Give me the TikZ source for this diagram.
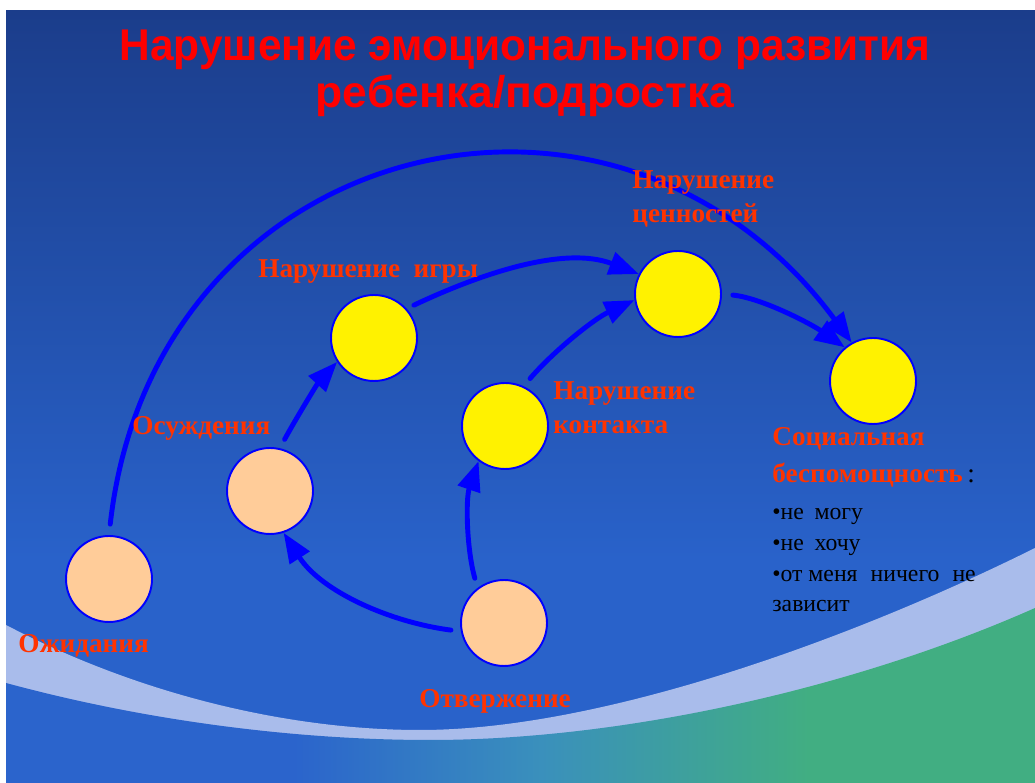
\documentclass[tikz,border=0pt]{standalone}
\usepackage{fontspec}
\usepackage{graphicx}
\setmainfont{Liberation Serif}
\newfontfamily\headfont{Liberation Sans}
\usetikzlibrary{arrows.meta}
\definecolor{bgtop}{HTML}{1B3D8B}
\definecolor{bgbot}{HTML}{2962CA}
\definecolor{band}{HTML}{A9BCEB}
\definecolor{seablue}{HTML}{2B64CC}
\definecolor{seateal}{HTML}{3A90BC}
\definecolor{seagreen}{HTML}{41AE82}
\definecolor{peach}{HTML}{FFCC99}
\definecolor{lblred}{HTML}{FF3300}
\definecolor{arrowblue}{HTML}{0000FF}
\pgfdeclarehorizontalshading{seashade}{100bp}{color(0bp)=(seablue); color(39bp)=(seablue); color(51bp)=(seateal); color(64bp)=(seagreen); color(100bp)=(seagreen)}
\tikzset {
  % circled stage style
  main/.style = {draw=arrowblue, line width=1.1pt, circle, minimum size=1.72cm, inner sep=0pt},
  % early and late stages
  calm/.style={fill=peach},
  bright/.style={fill=yellow},
  % arrows between stages
  flow/.style={draw=arrowblue, line width=2.8pt, line cap=round, -{Triangle[length=17pt,width=13pt]}},
  % texts
  lbl/.style={anchor=base west, inner sep=0pt, text=lblred, font=\fontsize{15.5}{19.3}\selectfont\bfseries},
  note/.style={anchor=base west, inner sep=0pt, text=black, font=\fontsize{13.5}{17.4}\selectfont},
}
\begin{document}
\begin{tikzpicture}[x=0.02cm, y=-0.02cm]
        \useasboundingbox (0,0) rectangle (1035,783);

        % background
        \fill[bgbot] (6,11) rectangle (1035,783);
        \shade[top color=bgtop, bottom color=bgbot] (6,11) rectangle (1035,560);
        \fill[band] (6,625) .. controls (150,700) and (300,730) .. (420,730)
          .. controls (600,730) and (850,640) .. (1035,548) -- (1035,783) -- (6,783) -- cycle;
        \shade[shading=seashade] (6,683) .. controls (150,722) and (300,740) .. (430,740)
          .. controls (620,740) and (850,690) .. (1035,608) -- (1035,783) -- (6,783) -- cycle;

        \node[anchor=base, inner sep=0pt, text=red, font=\headfont\fontsize{25.3}{26.6}\selectfont\bfseries] (title) at (525,61)
          {\begin{tabular}[t]{@{}c@{}}\scalebox{0.955}[1]{Нарушение эмоционального развития}\\ребенка/подростка\end{tabular}};

        \node[main, calm] (ozh) at (109,579) {};
        \node[main, calm] (osu) at (270,491) {};
        \node[main, calm] (otv) at (504,623) {};
        \node[main, bright] (igr) at (374,338) {};
        \node[main, bright] (kon) at (505,426) {};
        \node[main, bright] (cen) at (678,294) {};
        \node[main, bright] (soc) at (873,381) {};

        \draw[flow, shorten <=0.22cm] (ozh.north) .. controls +(45,-400) and +(-235,-318) .. (soc.119);
        \draw[flow, shorten <=0.2cm] (osu.77) .. controls +(14,-26) and +(-20,22) .. (igr.213);
        \draw[flow, shorten <=0.16cm] (igr.42) .. controls +(72,-34) and +(-75,-29) .. (cen.153);
        \draw[flow, shorten <=0.2cm] (kon.65) .. controls +(29,-34) and +(-41,19) .. (cen.188);
        \draw[flow, shorten <=0.22cm] (cen.east) .. controls +(40,4) and +(-33,-23) .. (soc.130);
        \draw[flow, shorten <=0.2cm] (otv.191) .. controls +(-70,-9) and +(38,59) .. (osu.-72);
        \draw[flow, shorten <=0.2cm] (otv.127) .. controls +(-11,-39) and +(-13,38) .. (kon.233);

        \node[lbl] (ozhlbl) at (18,653) {Ожидания};
        \node[lbl] (osulbl) at (132,435) {Осуждения};
        \node[lbl] (otvlbl) at (419,707) {Отвержение};
        \node[lbl] (igrlbl) at (258,278) {Нарушение\enspace игры};
        \node[lbl] (konlbl) at (553,400) {\begin{tabular}[t]{@{}l@{}}Нарушение\\контакта\end{tabular}};
        \node[lbl] (cenlbl) at (632,189) {\begin{tabular}[t]{@{}l@{}}Нарушение\\ценностей\end{tabular}};
        \node[lbl, font=\fontsize{15.5}{21}\selectfont\bfseries] (soclbl) at (772,446)
          {\begin{tabular}[t]{@{}l@{}}Социальная\\беспомощность\,{\mdseries\color{black}:}\end{tabular}};
        \node[note] (socnote) at (772,520)
          {\begin{tabular}[t]{@{}l@{}}•не\hspace{0.2em} могу\\•не\hspace{0.2em} хочу\\•от меня\hspace{0.3em} ничего\hspace{0.3em} не\\зависит\end{tabular}};
      \end{tikzpicture}
\end{document}
